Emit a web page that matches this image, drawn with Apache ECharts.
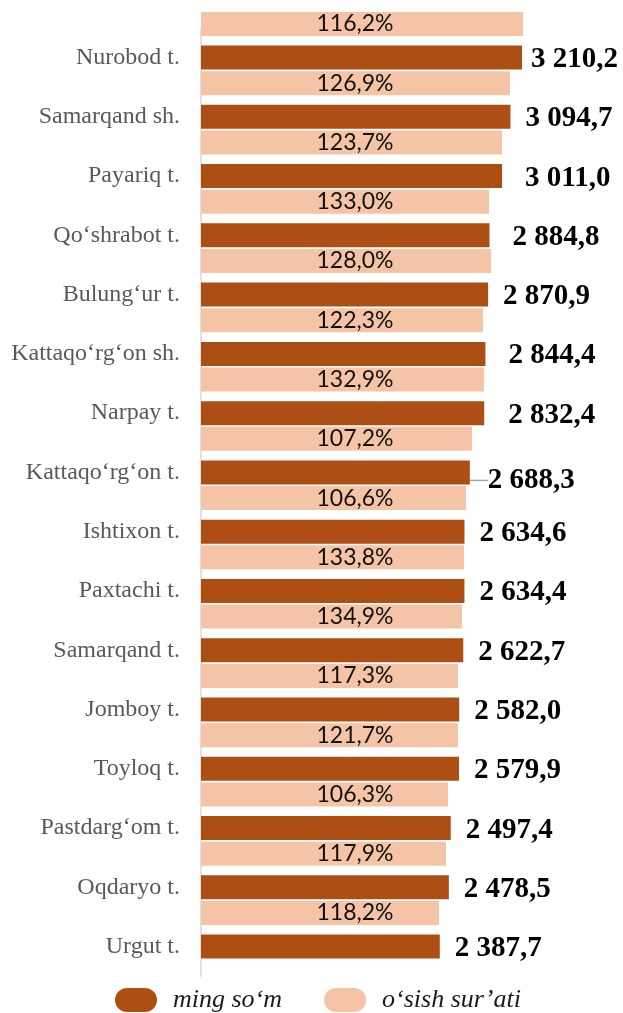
<!DOCTYPE html>
<html style="height: 100%">
	<head>
		<meta charset="utf-8">
	</head>
	<body style="height: 100%; margin: 0; background: #fff">
		<div id="container" style="width: 623px; height: 1013px"></div>
		<script src="https://cdn.jsdelivr.net/npm/echarts@6/dist/echarts.min.js" type="text/javascript" charset="utf-8"></script>
		<script type="text/javascript">
			// tumanlar / shaharlar
			var categories = ['Nurobod t.', 'Samarqand sh.', 'Payariq t.', 'Qo‘shrabot t.', 'Bulung‘ur t.', 'Kattaqo‘rg‘on sh.', 'Narpay t.', 'Kattaqo‘rg‘on t.', 'Ishtixon t.', 'Paxtachi t.', 'Samarqand t.', 'Jomboy t.', 'Toyloq t.', 'Pastdarg‘om t.', 'Oqdaryo t.', 'Urgut t.'];
			// ming so'm
			var sumValues = [3210.2, 3094.7, 3011.0, 2884.8, 2870.9, 2844.4, 2832.4, 2688.3, 2634.6, 2634.4, 2622.7, 2582.0, 2579.9, 2497.4, 2478.5, 2387.7];
			// o'sish sur'ati - bar lengths as drawn, and the percent shown on them
			var growthBars = [3220, 3090, 3010, 2880, 2900, 2820, 2830, 2710, 2650, 2630, 2610, 2570, 2570, 2470, 2450, 2380];
			var growthPct = [116.2, 126.9, 123.7, 133.0, 128.0, 122.3, 132.9, 107.2, 106.6, 133.8, 134.9, 117.3, 121.7, 106.3, 117.9, 118.2];

			var seriesNames = ['ming so‘m', 'o‘sish sur’ati'];

			function fmtNum(v) {
				var p = v.toFixed(1).split('.');
				return p[0].replace(/\B(?=(\d{3})+(?!\d))/g, ' ') + ',' + p[1];
			}

			// label nudges (px) where the original labels sit off the usual spot
			var labelDx = {0: -6, 2: 8, 3: 8, 5: 8, 6: 9, 7: 3};
			var labelDy = {7: 8};

			var sumData = sumValues.map(function (v, i) {
				var item = {value: v};
				if (i === 7) {
					item.labelLine = {show: true, lineStyle: {color: '#a6a6a6', width: 1.5}};
				}
				return item;
			});

			var pill = 'path://M12,0 L30,0 A12,12 0 0 1 30,24 L12,24 A12,12 0 0 1 12,0 Z';

			var myChart = echarts.init(document.getElementById('container'));
			var option = {
				animation: false,
				backgroundColor: '#fff',
				grid: {
					left: 201,
					right: 72,
					top: 27.9,
					bottom: 36.8
				},
				legend: {
					data: seriesNames,
					left: 115,
					top: 987,
					padding: 0,
					icon: pill,
					itemWidth: 42,
					itemHeight: 24,
					itemGap: 42,
					textStyle: {
						fontFamily: 'Liberation Serif',
						fontStyle: 'italic',
						fontSize: 26,
						lineHeight: 26,
						color: '#1a1a1a',
						padding: [0, 0, 0, 11]
					}
				},
				xAxis: {
					type: 'value',
					min: 0,
					max: 3500,
					show: false
				},
				yAxis: {
					type: 'category',
					data: categories,
					inverse: true,
					axisLine: {
						show: true,
						lineStyle: {color: '#d9d9d9', width: 1.5}
					},
					axisTick: {show: false},
					axisLabel: {
						margin: 21,
						fontFamily: 'Liberation Serif',
						fontSize: 24,
						color: '#595959'
					}
				},
				series: [
					{
						name: seriesNames[1],
						type: 'bar',
						barWidth: 24,
						barGap: '40%',
						clip: false,
						data: growthBars,
						itemStyle: {color: '#F5C4A6'},
						label: {
							show: true,
							position: [154, '50%'],
							align: 'center',
							verticalAlign: 'middle',
							fontFamily: 'Lato',
							fontSize: 23,
							color: '#111',
							formatter: function (p) {
								return growthPct[p.dataIndex].toFixed(1).replace('.', ',') + '%';
							}
						}
					},
					{
						name: seriesNames[0],
						type: 'bar',
						barWidth: 24,
						barGap: '40%',
						data: sumData,
						itemStyle: {color: '#AD4E14'},
						label: {
							show: true,
							position: 'right',
							distance: 15,
							fontFamily: 'Liberation Serif',
							fontWeight: 'bold',
							fontSize: 29,
							color: '#000',
							formatter: function (p) {
								return fmtNum(p.value);
							}
						},
						labelLine: {show: false},
						labelLayout: function (p) {
							return {
								dx: labelDx[p.dataIndex] || 0,
								dy: labelDy[p.dataIndex] || 2
							};
						}
					},
					{
						// empty slot below, so the dark bar sits on the category centre
						name: 'spacer',
						type: 'bar',
						barWidth: 24,
						barGap: '40%',
						data: []
					}
				]
			};
			myChart.setOption(option);
		</script>
	</body>
</html>
